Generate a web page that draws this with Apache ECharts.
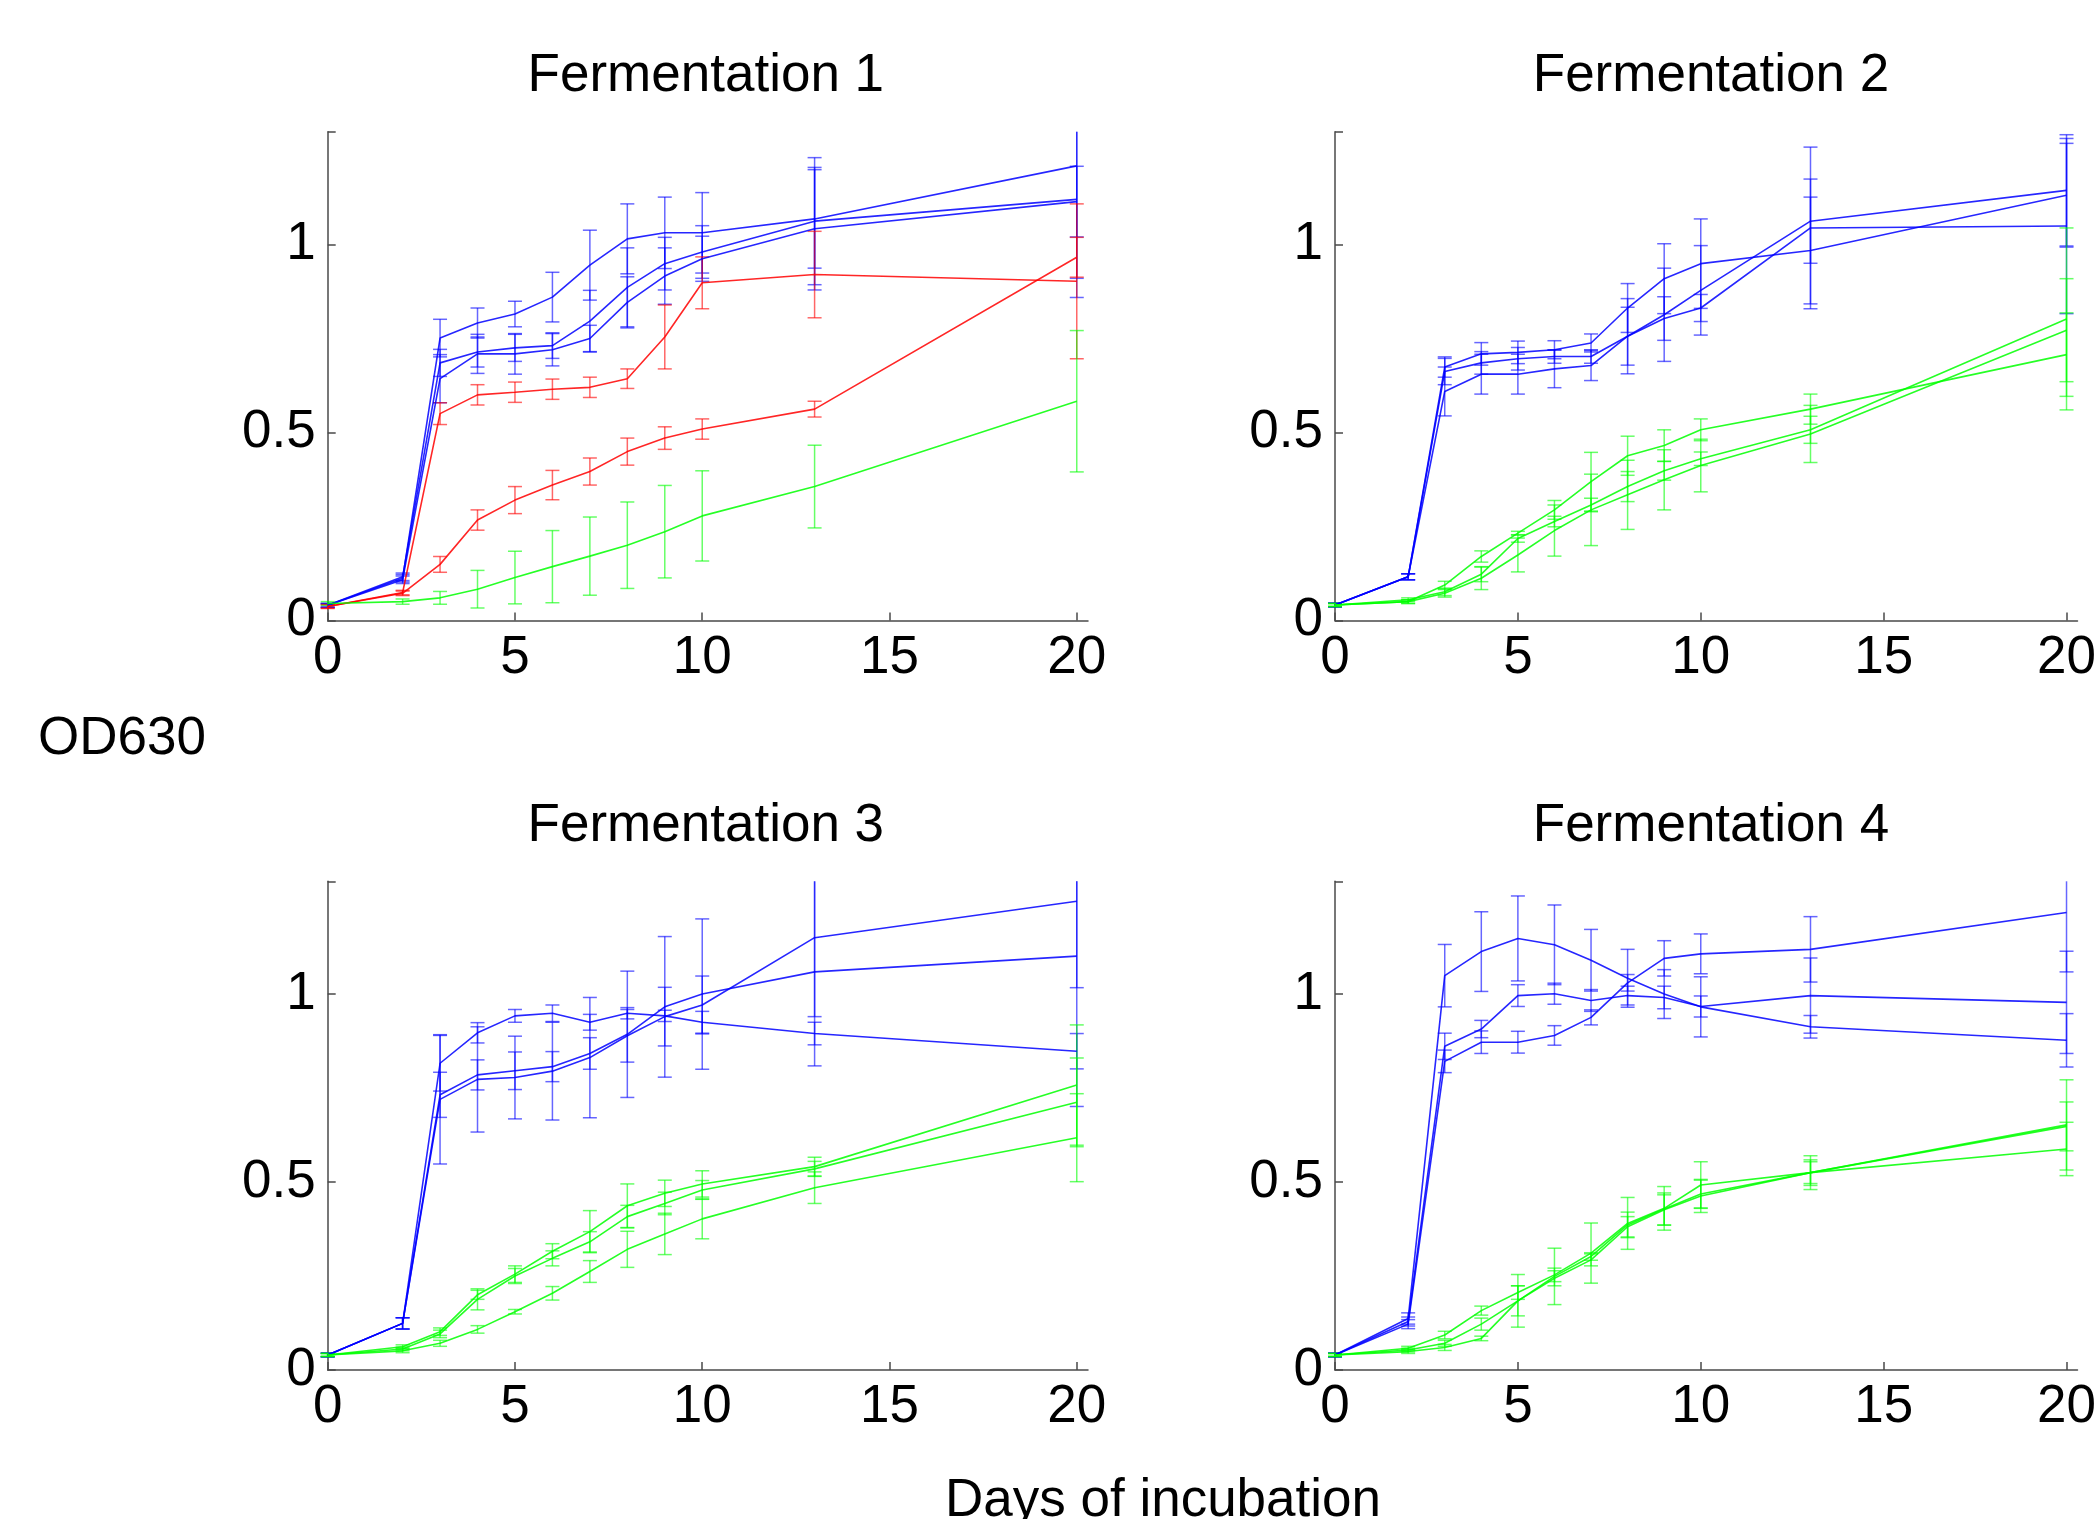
<!DOCTYPE html>
<html>
<head>
<meta charset="utf-8">
<script src="https://cdn.jsdelivr.net/npm/echarts@6/dist/echarts.min.js"></script>
<style>
html,body{margin:0;padding:0;background:#fff;}
#chart{width:2099px;height:1519px;}
</style>
</head>
<body>
<div id="chart"></div>
<script>
// ---------- data ----------
const days = [0, 2, 3, 4, 5, 6, 7, 8, 9, 10, 13, 20];
const xTicks = [0, 5, 10, 15, 20];
const yTicks = [0, 0.5, 1];
const panelTitles = ['Fermentation 1', 'Fermentation 2', 'Fermentation 3', 'Fermentation 4'];

// Fermentation 1
const f1Blue1 = [0.04, 0.112, 0.751, 0.791, 0.815, 0.86, 0.945, 1.015, 1.031, 1.031, 1.068, 1.209];
const f1Blue1Err = [0.005, 0.01, 0.05, 0.04, 0.034, 0.066, 0.093, 0.093, 0.095, 0.107, 0.131, 0.35];
const f1Blue2 = [0.04, 0.116, 0.685, 0.714, 0.725, 0.731, 0.796, 0.886, 0.949, 0.98, 1.062, 1.12];
const f1Blue2Err = [0.005, 0.01, 0.036, 0.04, 0.036, 0.034, 0.082, 0.105, 0.07, 0.07, 0.169, 0.21];
const f1Blue3 = [0.04, 0.108, 0.643, 0.709, 0.709, 0.72, 0.75, 0.846, 0.916, 0.962, 1.042, 1.114];
const f1Blue3Err = [0.005, 0.01, 0.064, 0.052, 0.054, 0.043, 0.035, 0.068, 0.075, 0.06, 0.163, 0.094];
const f1Red1 = [0.037, 0.074, 0.55, 0.6, 0.607, 0.615, 0.62, 0.643, 0.754, 0.898, 0.92, 0.902];
const f1Red1Err = [0.005, 0.006, 0.029, 0.027, 0.027, 0.027, 0.027, 0.026, 0.085, 0.069, 0.115, 0.206];
const f1Red2 = [0.037, 0.072, 0.149, 0.267, 0.32, 0.36, 0.396, 0.449, 0.485, 0.509, 0.562, 0.966];
const f1Red2Err = [0.005, 0.006, 0.021, 0.027, 0.036, 0.039, 0.036, 0.036, 0.03, 0.027, 0.021, 0.053];
const f1Green1 = [0.045, 0.05, 0.06, 0.083, 0.114, 0.143, 0.171, 0.2, 0.236, 0.278, 0.356, 0.583];
const f1Green1Err = [0.005, 0.007, 0.017, 0.05, 0.07, 0.096, 0.104, 0.115, 0.123, 0.12, 0.11, 0.188];

// Fermentation 2
const f2Blue1 = [0.041, 0.116, 0.674, 0.709, 0.713, 0.72, 0.738, 0.831, 0.909, 0.949, 0.984, 1.131];
const f2Blue1Err = [0.005, 0.008, 0.027, 0.03, 0.03, 0.024, 0.024, 0.065, 0.093, 0.119, 0.142, 0.138];
const f2Blue2 = [0.041, 0.116, 0.662, 0.685, 0.696, 0.702, 0.702, 0.756, 0.813, 0.878, 1.062, 1.144];
const f2Blue2Err = [0.005, 0.008, 0.035, 0.03, 0.03, 0.018, 0.018, 0.1, 0.124, 0.119, 0.112, 0.148];
const f2Blue3 = [0.041, 0.116, 0.609, 0.655, 0.655, 0.669, 0.678, 0.756, 0.803, 0.831, 1.044, 1.049];
const f2Blue3Err = [0.005, 0.008, 0.065, 0.053, 0.053, 0.05, 0.04, 0.077, 0.058, 0.036, 0.215, 0.233];
const f2Green1 = [0.041, 0.05, 0.094, 0.17, 0.232, 0.294, 0.369, 0.438, 0.465, 0.507, 0.562, 0.707];
const f2Green1Err = [0.004, 0.005, 0.01, 0.015, 0.005, 0.025, 0.078, 0.052, 0.042, 0.029, 0.04, 0.111];
const f2Green2 = [0.041, 0.055, 0.076, 0.123, 0.218, 0.263, 0.307, 0.356, 0.398, 0.43, 0.507, 0.802];
const f2Green2Err = [0.004, 0.005, 0.01, 0.02, 0.01, 0.014, 0.018, 0.04, 0.025, 0.018, 0.036, 0.242];
const f2Green3 = [0.041, 0.05, 0.072, 0.112, 0.174, 0.239, 0.294, 0.334, 0.374, 0.412, 0.496, 0.772];
const f2Green3Err = [0.004, 0.005, 0.01, 0.03, 0.045, 0.068, 0.095, 0.092, 0.08, 0.07, 0.076, 0.137];

// Fermentation 3
const f3Blue1 = [0.04, 0.124, 0.816, 0.897, 0.942, 0.949, 0.925, 0.949, 0.942, 0.925, 0.895, 0.848];
const f3Blue1Err = [0.005, 0.015, 0.074, 0.027, 0.017, 0.022, 0.021, 0.015, 0.015, 0.029, 0.03, 0.047];
const f3Blue2 = [0.04, 0.124, 0.732, 0.785, 0.796, 0.807, 0.842, 0.893, 0.966, 1.0, 1.059, 1.101];
const f3Blue2Err = [0.005, 0.015, 0.06, 0.04, 0.05, 0.04, 0.042, 0.168, 0.187, 0.2, 0.25, 0.4];
const f3Blue3 = [0.04, 0.124, 0.72, 0.773, 0.778, 0.795, 0.831, 0.889, 0.94, 0.971, 1.15, 1.247];
const f3Blue3Err = [0.005, 0.015, 0.172, 0.14, 0.11, 0.13, 0.16, 0.07, 0.078, 0.077, 0.21, 0.23];
const f3Green1 = [0.04, 0.062, 0.102, 0.2, 0.255, 0.316, 0.368, 0.437, 0.47, 0.495, 0.541, 0.758];
const f3Green1Err = [0.004, 0.005, 0.01, 0.012, 0.022, 0.02, 0.056, 0.058, 0.035, 0.035, 0.025, 0.16];
const f3Green2 = [0.04, 0.056, 0.096, 0.188, 0.25, 0.297, 0.341, 0.408, 0.443, 0.479, 0.535, 0.712];
const f3Green2Err = [0.004, 0.005, 0.01, 0.028, 0.02, 0.02, 0.027, 0.03, 0.03, 0.025, 0.02, 0.118];
const f3Green3 = [0.04, 0.051, 0.071, 0.108, 0.155, 0.204, 0.262, 0.321, 0.362, 0.402, 0.485, 0.618];
const f3Green3Err = [0.004, 0.005, 0.008, 0.01, 0.006, 0.018, 0.029, 0.048, 0.055, 0.053, 0.042, 0.117];

// Fermentation 4
const f4Blue1 = [0.04, 0.137, 1.049, 1.113, 1.148, 1.131, 1.09, 1.042, 1.0, 0.966, 0.913, 0.877];
const f4Blue1Err = [0.005, 0.015, 0.083, 0.106, 0.113, 0.106, 0.082, 0.077, 0.065, 0.08, 0.03, 0.071];
const f4Blue2 = [0.04, 0.129, 0.861, 0.907, 0.996, 1.001, 0.983, 0.996, 0.991, 0.967, 0.996, 0.978];
const f4Blue2Err = [0.005, 0.012, 0.035, 0.023, 0.029, 0.028, 0.029, 0.025, 0.03, 0.028, 0.1, 0.136];
const f4Blue3 = [0.04, 0.122, 0.821, 0.872, 0.872, 0.89, 0.938, 1.03, 1.095, 1.107, 1.119, 1.217];
const f4Blue3Err = [0.005, 0.012, 0.03, 0.03, 0.029, 0.026, 0.02, 0.022, 0.047, 0.053, 0.087, 0.158];
const f4Green1 = [0.04, 0.058, 0.093, 0.158, 0.206, 0.253, 0.311, 0.39, 0.43, 0.492, 0.525, 0.652];
const f4Green1Err = [0.004, 0.005, 0.01, 0.012, 0.018, 0.018, 0.08, 0.069, 0.058, 0.062, 0.045, 0.12];
const f4Green2 = [0.04, 0.053, 0.071, 0.122, 0.184, 0.249, 0.302, 0.386, 0.428, 0.468, 0.525, 0.648];
const f4Green2Err = [0.004, 0.005, 0.008, 0.016, 0.07, 0.075, 0.01, 0.034, 0.043, 0.037, 0.034, 0.065];
const f4Green3 = [0.04, 0.049, 0.06, 0.084, 0.184, 0.244, 0.293, 0.381, 0.426, 0.463, 0.525, 0.588];
const f4Green3Err = [0.004, 0.005, 0.008, 0.006, 0.04, 0.02, 0.016, 0.027, 0.04, 0.044, 0.029, 0.071];

// ---------- build ----------
const BLUE = '#0000ff', RED = '#ff0000', GREEN = '#00ff00';
const X_MAX = 20.3, Y_MAX = 1.3;
const FONT = '"Liberation Sans", Arial, Helvetica, sans-serif';
const FS = 53;

const panels = [
  [[f1Blue1, f1Blue1Err, BLUE], [f1Blue2, f1Blue2Err, BLUE], [f1Blue3, f1Blue3Err, BLUE],
   [f1Red1, f1Red1Err, RED], [f1Red2, f1Red2Err, RED], [f1Green1, f1Green1Err, GREEN]],
  [[f2Blue1, f2Blue1Err, BLUE], [f2Blue2, f2Blue2Err, BLUE], [f2Blue3, f2Blue3Err, BLUE],
   [f2Green1, f2Green1Err, GREEN], [f2Green2, f2Green2Err, GREEN], [f2Green3, f2Green3Err, GREEN]],
  [[f3Blue1, f3Blue1Err, BLUE], [f3Blue2, f3Blue2Err, BLUE], [f3Blue3, f3Blue3Err, BLUE],
   [f3Green1, f3Green1Err, GREEN], [f3Green2, f3Green2Err, GREEN], [f3Green3, f3Green3Err, GREEN]],
  [[f4Blue1, f4Blue1Err, BLUE], [f4Blue2, f4Blue2Err, BLUE], [f4Blue3, f4Blue3Err, BLUE],
   [f4Green1, f4Green1Err, GREEN], [f4Green2, f4Green2Err, GREEN], [f4Green3, f4Green3Err, GREEN]]
];

const grids = [
  {left: 327.7, top: 131.7, width: 760.3, height: 488.7},
  {left: 1335, top: 131.7, width: 756, height: 488.7},
  {left: 327.7, top: 881.3, width: 760.3, height: 488.7},
  {left: 1335, top: 881.3, width: 756, height: 488.7}
];

function makeErrRender(color) {
  return function (params, api) {
    const x = api.value(0), y = api.value(1), e = api.value(2);
    let hi = y + e, lo = Math.max(0, y - e);
    const clipped = hi > Y_MAX;
    if (clipped) hi = Y_MAX;
    const pHi = api.coord([x, hi]);
    const pLo = api.coord([x, lo]);
    const cw = 7;
    const st = {stroke: color, lineWidth: 1.5, opacity: 0.6};
    const children = [
      {type: 'line', shape: {x1: pHi[0], y1: pHi[1], x2: pLo[0], y2: pLo[1]}, style: st},
      {type: 'line', shape: {x1: pLo[0] - cw, y1: pLo[1], x2: pLo[0] + cw, y2: pLo[1]}, style: st}
    ];
    if (!clipped) {
      children.push({type: 'line', shape: {x1: pHi[0] - cw, y1: pHi[1], x2: pHi[0] + cw, y2: pHi[1]}, style: st});
    }
    return {type: 'group', children: children};
  };
}

const axisLineStyle = {color: '#4a4a4a', width: 1.5};
const xAxes = [], yAxes = [], series = [], titles = [];

grids.forEach(function (g, i) {
  xAxes.push({
    type: 'value', gridIndex: i, min: 0, max: X_MAX,
    axisLine: {show: true, onZero: false, lineStyle: axisLineStyle},
    axisTick: {show: true, inside: true, length: 8, lineStyle: axisLineStyle, customValues: xTicks},
    axisLabel: {show: true, customValues: xTicks, margin: 11, color: '#000', fontSize: FS, fontFamily: FONT,
      formatter: function (v) { return String(v); }},
    splitLine: {show: false}
  });
  yAxes.push({
    type: 'value', gridIndex: i, min: 0, max: Y_MAX,
    axisLine: {show: true, onZero: false, lineStyle: axisLineStyle},
    axisTick: {show: true, inside: true, length: 8, lineStyle: axisLineStyle, customValues: yTicks.concat([Y_MAX])},
    axisLabel: {show: true, customValues: yTicks, margin: 12, color: '#000', fontSize: FS, fontFamily: FONT,
      formatter: function (v) { return String(v); }},
    splitLine: {show: false}
  });
  titles.push({
    text: panelTitles[i],
    left: g.left + g.width / 2 - 7,
    top: 45 + (i >= 2 ? 749.6 : 0),
    textAlign: 'center',
    textStyle: {fontSize: FS, fontWeight: 'normal', color: '#000', fontFamily: FONT}
  });
  panels[i].forEach(function (s) {
    const vals = s[0], errs = s[1], color = s[2];
    series.push({
      type: 'custom', xAxisIndex: i, yAxisIndex: i,
      renderItem: makeErrRender(color),
      data: days.map(function (d, k) { return [d, vals[k], errs[k]]; }),
      encode: {x: 0, y: 1},
      silent: true, z: 2
    });
    series.push({
      type: 'line', xAxisIndex: i, yAxisIndex: i,
      data: days.map(function (d, k) { return [d, vals[k]]; }),
      showSymbol: false, symbol: 'none',
      lineStyle: {color: color, width: 1.6, opacity: 0.85},
      itemStyle: {color: color},
      silent: true, z: 3
    });
  });
});

titles.push({
  text: 'OD630', left: 33, top: 708,
  textStyle: {fontSize: FS, fontWeight: 'normal', color: '#000', fontFamily: FONT}
});
titles.push({
  text: 'Days of incubation', left: 1158, top: 1470, textAlign: 'center',
  textStyle: {fontSize: FS, fontWeight: 'normal', color: '#000', fontFamily: FONT}
});

const chart = echarts.init(document.getElementById('chart'), null, {renderer: 'canvas'});
chart.setOption({
  backgroundColor: '#ffffff',
  animation: false,
  title: titles,
  grid: grids,
  xAxis: xAxes,
  yAxis: yAxes,
  series: series
});
</script>
</body>
</html>
